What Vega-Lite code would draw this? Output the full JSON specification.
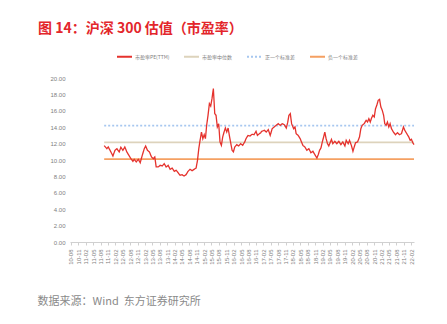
{
  "$schema": "https://vega.github.io/schema/vega-lite/v6.json",
  "width": 344,
  "height": 164,
  "autosize": {"type": "none"},
  "padding": {"left": 70, "top": 78, "right": 33, "bottom": 82},
  "background": "white",
  "title": {
    "text": "图 14：沪深 300 估值（市盈率）",
    "anchor": "start",
    "frame": "group",
    "dx": -32,
    "offset": 12,
    "font": "Noto Sans CJK SC",
    "fontSize": 14,
    "fontWeight": "bold",
    "color": "#E3262B"
  },
  "config": {
    "view": {"stroke": null},
    "axis": {"labelFont": "Liberation Sans", "labelColor": "#808080", "grid": false}
  },
  "datasets": {
    "ref": [
      {"date": "2011-09-15", "value": 12.15, "series": "市盈率中位数"},
      {"date": "2022-03-06", "value": 12.15, "series": "市盈率中位数"},
      {"date": "2011-09-15", "value": 14.2, "series": "正一个标准差"},
      {"date": "2022-03-06", "value": 14.2, "series": "正一个标准差"},
      {"date": "2011-09-15", "value": 10.1, "series": "负一个标准差"},
      {"date": "2022-03-06", "value": 10.1, "series": "负一个标准差"}
    ],
    "pe": [
      {"date": "2011-09-15", "value": 11.75},
      {"date": "2011-10-18", "value": 11.38},
      {"date": "2011-11-04", "value": 11.59},
      {"date": "2011-12-07", "value": 10.98},
      {"date": "2012-01-01", "value": 10.49},
      {"date": "2012-01-26", "value": 11.18},
      {"date": "2012-02-19", "value": 11.38},
      {"date": "2012-03-18", "value": 10.98},
      {"date": "2012-04-08", "value": 11.55},
      {"date": "2012-05-03", "value": 11.18},
      {"date": "2012-05-27", "value": 11.59},
      {"date": "2012-06-21", "value": 10.98},
      {"date": "2012-07-16", "value": 10.57},
      {"date": "2012-08-10", "value": 10.16},
      {"date": "2012-09-04", "value": 9.84},
      {"date": "2012-09-20", "value": 10.08},
      {"date": "2012-10-15", "value": 9.76},
      {"date": "2012-11-09", "value": 10.08},
      {"date": "2012-12-03", "value": 9.67},
      {"date": "2012-12-28", "value": 10.57},
      {"date": "2013-01-22", "value": 11.38},
      {"date": "2013-02-08", "value": 11.71},
      {"date": "2013-03-02", "value": 11.18},
      {"date": "2013-03-27", "value": 10.98},
      {"date": "2013-04-21", "value": 10.37},
      {"date": "2013-05-15", "value": 10.16},
      {"date": "2013-06-01", "value": 10.37},
      {"date": "2013-06-18", "value": 9.15},
      {"date": "2013-07-12", "value": 9.15},
      {"date": "2013-08-06", "value": 9.35},
      {"date": "2013-08-31", "value": 9.27},
      {"date": "2013-09-25", "value": 9.55},
      {"date": "2013-10-19", "value": 9.15},
      {"date": "2013-11-13", "value": 9.35},
      {"date": "2013-12-08", "value": 8.86},
      {"date": "2014-01-02", "value": 9.02},
      {"date": "2014-01-27", "value": 8.62},
      {"date": "2014-02-20", "value": 8.74},
      {"date": "2014-03-15", "value": 8.46},
      {"date": "2014-04-09", "value": 8.13},
      {"date": "2014-05-03", "value": 8.21},
      {"date": "2014-05-28", "value": 8.05},
      {"date": "2014-06-22", "value": 8.21},
      {"date": "2014-07-16", "value": 8.62},
      {"date": "2014-08-10", "value": 8.86},
      {"date": "2014-09-05", "value": 8.7},
      {"date": "2014-09-29", "value": 8.86},
      {"date": "2014-10-24", "value": 9.02},
      {"date": "2014-11-10", "value": 9.96},
      {"date": "2014-11-26", "value": 11.38},
      {"date": "2014-12-12", "value": 12.4},
      {"date": "2014-12-29", "value": 13.41},
      {"date": "2015-01-15", "value": 12.6},
      {"date": "2015-02-01", "value": 13.09},
      {"date": "2015-02-16", "value": 12.6},
      {"date": "2015-03-03", "value": 14.23},
      {"date": "2015-03-20", "value": 15.45},
      {"date": "2015-04-06", "value": 16.87},
      {"date": "2015-04-22", "value": 16.58},
      {"date": "2015-05-08", "value": 17.48},
      {"date": "2015-05-25", "value": 18.7},
      {"date": "2015-06-11", "value": 15.65},
      {"date": "2015-06-27", "value": 15.45},
      {"date": "2015-07-13", "value": 14.03},
      {"date": "2015-07-30", "value": 14.43},
      {"date": "2015-08-15", "value": 12.2},
      {"date": "2015-09-01", "value": 11.79},
      {"date": "2015-09-17", "value": 12.8},
      {"date": "2015-10-04", "value": 13.41},
      {"date": "2015-10-20", "value": 13.9},
      {"date": "2015-11-06", "value": 13.41},
      {"date": "2015-11-23", "value": 13.9},
      {"date": "2015-12-08", "value": 13.0},
      {"date": "2015-12-25", "value": 12.1},
      {"date": "2016-01-11", "value": 11.18},
      {"date": "2016-01-27", "value": 10.98},
      {"date": "2016-02-13", "value": 11.59},
      {"date": "2016-03-08", "value": 11.87},
      {"date": "2016-04-02", "value": 11.71},
      {"date": "2016-04-26", "value": 11.99},
      {"date": "2016-05-21", "value": 11.79},
      {"date": "2016-06-15", "value": 12.2},
      {"date": "2016-07-01", "value": 12.6},
      {"date": "2016-07-26", "value": 13.0},
      {"date": "2016-08-20", "value": 12.93},
      {"date": "2016-09-14", "value": 13.13},
      {"date": "2016-10-08", "value": 13.09},
      {"date": "2016-11-02", "value": 13.5},
      {"date": "2016-11-19", "value": 13.0},
      {"date": "2016-12-13", "value": 13.21},
      {"date": "2016-12-30", "value": 13.33},
      {"date": "2017-01-11", "value": 13.5},
      {"date": "2017-02-13", "value": 13.62},
      {"date": "2017-03-08", "value": 13.41},
      {"date": "2017-04-02", "value": 13.7},
      {"date": "2017-04-26", "value": 13.0},
      {"date": "2017-05-20", "value": 13.82},
      {"date": "2017-06-14", "value": 14.03},
      {"date": "2017-07-09", "value": 14.23},
      {"date": "2017-08-03", "value": 14.43},
      {"date": "2017-08-28", "value": 14.23},
      {"date": "2017-09-22", "value": 14.43},
      {"date": "2017-10-16", "value": 14.31},
      {"date": "2017-11-10", "value": 13.9},
      {"date": "2017-11-27", "value": 14.55},
      {"date": "2017-12-13", "value": 15.45},
      {"date": "2017-12-30", "value": 15.65},
      {"date": "2018-01-15", "value": 14.43},
      {"date": "2018-02-09", "value": 13.82},
      {"date": "2018-02-26", "value": 14.03},
      {"date": "2018-03-12", "value": 13.21},
      {"date": "2018-04-06", "value": 13.0},
      {"date": "2018-05-01", "value": 12.6},
      {"date": "2018-05-17", "value": 12.2},
      {"date": "2018-06-03", "value": 11.79},
      {"date": "2018-06-28", "value": 11.59},
      {"date": "2018-07-22", "value": 11.18},
      {"date": "2018-08-16", "value": 11.38},
      {"date": "2018-09-10", "value": 10.89},
      {"date": "2018-10-05", "value": 11.06},
      {"date": "2018-10-29", "value": 10.65},
      {"date": "2018-11-23", "value": 10.24},
      {"date": "2018-12-10", "value": 10.65},
      {"date": "2018-12-26", "value": 11.18},
      {"date": "2019-01-12", "value": 11.46},
      {"date": "2019-01-29", "value": 12.2},
      {"date": "2019-02-14", "value": 12.8},
      {"date": "2019-03-01", "value": 13.41},
      {"date": "2019-03-17", "value": 12.6},
      {"date": "2019-04-03", "value": 11.99},
      {"date": "2019-04-19", "value": 11.71},
      {"date": "2019-05-05", "value": 12.1},
      {"date": "2019-05-22", "value": 12.52},
      {"date": "2019-06-08", "value": 11.99},
      {"date": "2019-07-02", "value": 12.28},
      {"date": "2019-07-27", "value": 11.99},
      {"date": "2019-08-21", "value": 12.28},
      {"date": "2019-09-15", "value": 11.87},
      {"date": "2019-10-09", "value": 12.2},
      {"date": "2019-11-04", "value": 11.71},
      {"date": "2019-11-20", "value": 12.4},
      {"date": "2019-12-14", "value": 11.99},
      {"date": "2019-12-31", "value": 12.4},
      {"date": "2020-01-25", "value": 11.71},
      {"date": "2020-02-11", "value": 11.06},
      {"date": "2020-02-27", "value": 11.59},
      {"date": "2020-03-14", "value": 12.1},
      {"date": "2020-04-08", "value": 12.2},
      {"date": "2020-05-02", "value": 12.8},
      {"date": "2020-05-19", "value": 13.82},
      {"date": "2020-06-04", "value": 14.23},
      {"date": "2020-06-29", "value": 14.43},
      {"date": "2020-07-23", "value": 14.84},
      {"date": "2020-08-09", "value": 14.63},
      {"date": "2020-08-26", "value": 15.04},
      {"date": "2020-09-12", "value": 14.63},
      {"date": "2020-09-28", "value": 15.12},
      {"date": "2020-10-14", "value": 15.45},
      {"date": "2020-10-31", "value": 15.24},
      {"date": "2020-11-16", "value": 16.26},
      {"date": "2020-12-02", "value": 16.67},
      {"date": "2020-12-19", "value": 17.28},
      {"date": "2021-01-05", "value": 17.4},
      {"date": "2021-01-21", "value": 16.46},
      {"date": "2021-02-07", "value": 16.06},
      {"date": "2021-02-24", "value": 15.45},
      {"date": "2021-03-10", "value": 14.43},
      {"date": "2021-03-27", "value": 14.23},
      {"date": "2021-04-12", "value": 14.63},
      {"date": "2021-04-29", "value": 14.03},
      {"date": "2021-05-15", "value": 14.43},
      {"date": "2021-06-01", "value": 13.82},
      {"date": "2021-06-25", "value": 13.41},
      {"date": "2021-07-20", "value": 13.09},
      {"date": "2021-08-14", "value": 13.33},
      {"date": "2021-09-08", "value": 13.09},
      {"date": "2021-10-02", "value": 13.21},
      {"date": "2021-10-27", "value": 14.03},
      {"date": "2021-11-12", "value": 13.62},
      {"date": "2021-12-07", "value": 13.21},
      {"date": "2022-01-01", "value": 12.8},
      {"date": "2022-01-18", "value": 12.4},
      {"date": "2022-02-03", "value": 12.52},
      {"date": "2022-02-19", "value": 12.1},
      {"date": "2022-03-06", "value": 11.87}
    ]
  },
  "encoding": {
    "x": {
      "field": "date",
      "type": "temporal",
      "scale": {
        "type": "utc",
        "domain": [
          {"year": 2010, "month": 7, "date": 20, "utc": true},
          {"year": 2022, "month": 3, "date": 6, "utc": true}
        ]
      },
      "axis": {
        "values": [
          {"year": 2010, "month": 8, "date": 1, "utc": true},
          {"year": 2010, "month": 11, "date": 1, "utc": true},
          {"year": 2011, "month": 2, "date": 1, "utc": true},
          {"year": 2011, "month": 5, "date": 1, "utc": true},
          {"year": 2011, "month": 8, "date": 1, "utc": true},
          {"year": 2011, "month": 11, "date": 1, "utc": true},
          {"year": 2012, "month": 2, "date": 1, "utc": true},
          {"year": 2012, "month": 5, "date": 1, "utc": true},
          {"year": 2012, "month": 8, "date": 1, "utc": true},
          {"year": 2012, "month": 11, "date": 1, "utc": true},
          {"year": 2013, "month": 2, "date": 1, "utc": true},
          {"year": 2013, "month": 5, "date": 1, "utc": true},
          {"year": 2013, "month": 8, "date": 1, "utc": true},
          {"year": 2013, "month": 11, "date": 1, "utc": true},
          {"year": 2014, "month": 2, "date": 1, "utc": true},
          {"year": 2014, "month": 5, "date": 1, "utc": true},
          {"year": 2014, "month": 8, "date": 1, "utc": true},
          {"year": 2014, "month": 11, "date": 1, "utc": true},
          {"year": 2015, "month": 2, "date": 1, "utc": true},
          {"year": 2015, "month": 5, "date": 1, "utc": true},
          {"year": 2015, "month": 8, "date": 1, "utc": true},
          {"year": 2015, "month": 11, "date": 1, "utc": true},
          {"year": 2016, "month": 2, "date": 1, "utc": true},
          {"year": 2016, "month": 5, "date": 1, "utc": true},
          {"year": 2016, "month": 8, "date": 1, "utc": true},
          {"year": 2016, "month": 11, "date": 1, "utc": true},
          {"year": 2017, "month": 2, "date": 1, "utc": true},
          {"year": 2017, "month": 5, "date": 1, "utc": true},
          {"year": 2017, "month": 8, "date": 1, "utc": true},
          {"year": 2017, "month": 11, "date": 1, "utc": true},
          {"year": 2018, "month": 2, "date": 1, "utc": true},
          {"year": 2018, "month": 5, "date": 1, "utc": true},
          {"year": 2018, "month": 8, "date": 1, "utc": true},
          {"year": 2018, "month": 11, "date": 1, "utc": true},
          {"year": 2019, "month": 2, "date": 1, "utc": true},
          {"year": 2019, "month": 5, "date": 1, "utc": true},
          {"year": 2019, "month": 8, "date": 1, "utc": true},
          {"year": 2019, "month": 11, "date": 1, "utc": true},
          {"year": 2020, "month": 2, "date": 1, "utc": true},
          {"year": 2020, "month": 5, "date": 1, "utc": true},
          {"year": 2020, "month": 8, "date": 1, "utc": true},
          {"year": 2020, "month": 11, "date": 1, "utc": true},
          {"year": 2021, "month": 2, "date": 1, "utc": true},
          {"year": 2021, "month": 5, "date": 1, "utc": true},
          {"year": 2021, "month": 8, "date": 1, "utc": true},
          {"year": 2021, "month": 11, "date": 1, "utc": true},
          {"year": 2022, "month": 2, "date": 1, "utc": true}
        ],
        "format": "%y-%m",
        "labelAngle": 270,
        "labelFontSize": 6,
        "labelPadding": 4,
        "labelOverlap": false,
        "tickSize": 3,
        "tickColor": "#d0d0d0",
        "domainColor": "#d0d0d0",
        "title": "数据来源：Wind\u00a0\u00a0东方证券研究所",
        "titleFont": "Noto Sans CJK SC",
        "titleFontSize": 11,
        "titleFontWeight": "normal",
        "titleColor": "#8a8a8a",
        "titleAnchor": "start",
        "titleAlign": "left",
        "titleAngle": 0,
        "titleBaseline": "middle",
        "titleX": -33,
        "titleY": 59
      }
    },
    "y": {
      "field": "value",
      "type": "quantitative",
      "scale": {"domain": [0, 20], "nice": false},
      "axis": {
        "values": [0, 2, 4, 6, 8, 10, 12, 14, 16, 18, 20],
        "format": ".2f",
        "title": null,
        "domain": false,
        "ticks": false,
        "tickSize": 0,
        "labelPadding": 5,
        "labelFontSize": 6
      }
    },
    "color": {
      "field": "series",
      "type": "nominal",
      "scale": {
        "domain": ["市盈率PE(TTM)", "市盈率中位数", "正一个标准差", "负一个标准差"],
        "range": ["#E5322D", "#DDD3BC", "#A7C7F0", "#F5A062"]
      },
      "legend": {
        "title": null,
        "orient": "none",
        "direction": "horizontal",
        "legendX": 46,
        "legendY": -30,
        "symbolType": "stroke",
        "symbolSize": 225,
        "symbolStrokeWidth": 2,
        "labelFont": "Noto Sans CJK SC",
        "labelFontSize": 5,
        "labelColor": "#808080",
        "labelOffset": 2,
        "columnPadding": 10,
        "padding": 0
      }
    },
    "strokeDash": {
      "field": "series",
      "type": "nominal",
      "scale": {
        "domain": ["市盈率PE(TTM)", "市盈率中位数", "正一个标准差", "负一个标准差"],
        "range": [[1, 0], [1, 0], [2, 2], [1, 0]]
      },
      "legend": {
        "title": null,
        "orient": "none",
        "direction": "horizontal",
        "legendX": 46,
        "legendY": -30,
        "symbolType": "stroke",
        "symbolSize": 225,
        "symbolStrokeWidth": 2,
        "labelFont": "Noto Sans CJK SC",
        "labelFontSize": 5,
        "labelColor": "#808080",
        "labelOffset": 2,
        "columnPadding": 10,
        "padding": 0
      }
    }
  },
  "layer": [
    {
      "data": {"name": "ref"},
      "mark": {"type": "line", "strokeWidth": 1.8}
    },
    {
      "data": {"name": "pe"},
      "mark": {"type": "line", "strokeWidth": 1.3},
      "encoding": {
        "color": {"datum": "市盈率PE(TTM)", "type": "nominal"},
        "strokeDash": {"datum": "市盈率PE(TTM)", "type": "nominal"}
      }
    }
  ]
}
